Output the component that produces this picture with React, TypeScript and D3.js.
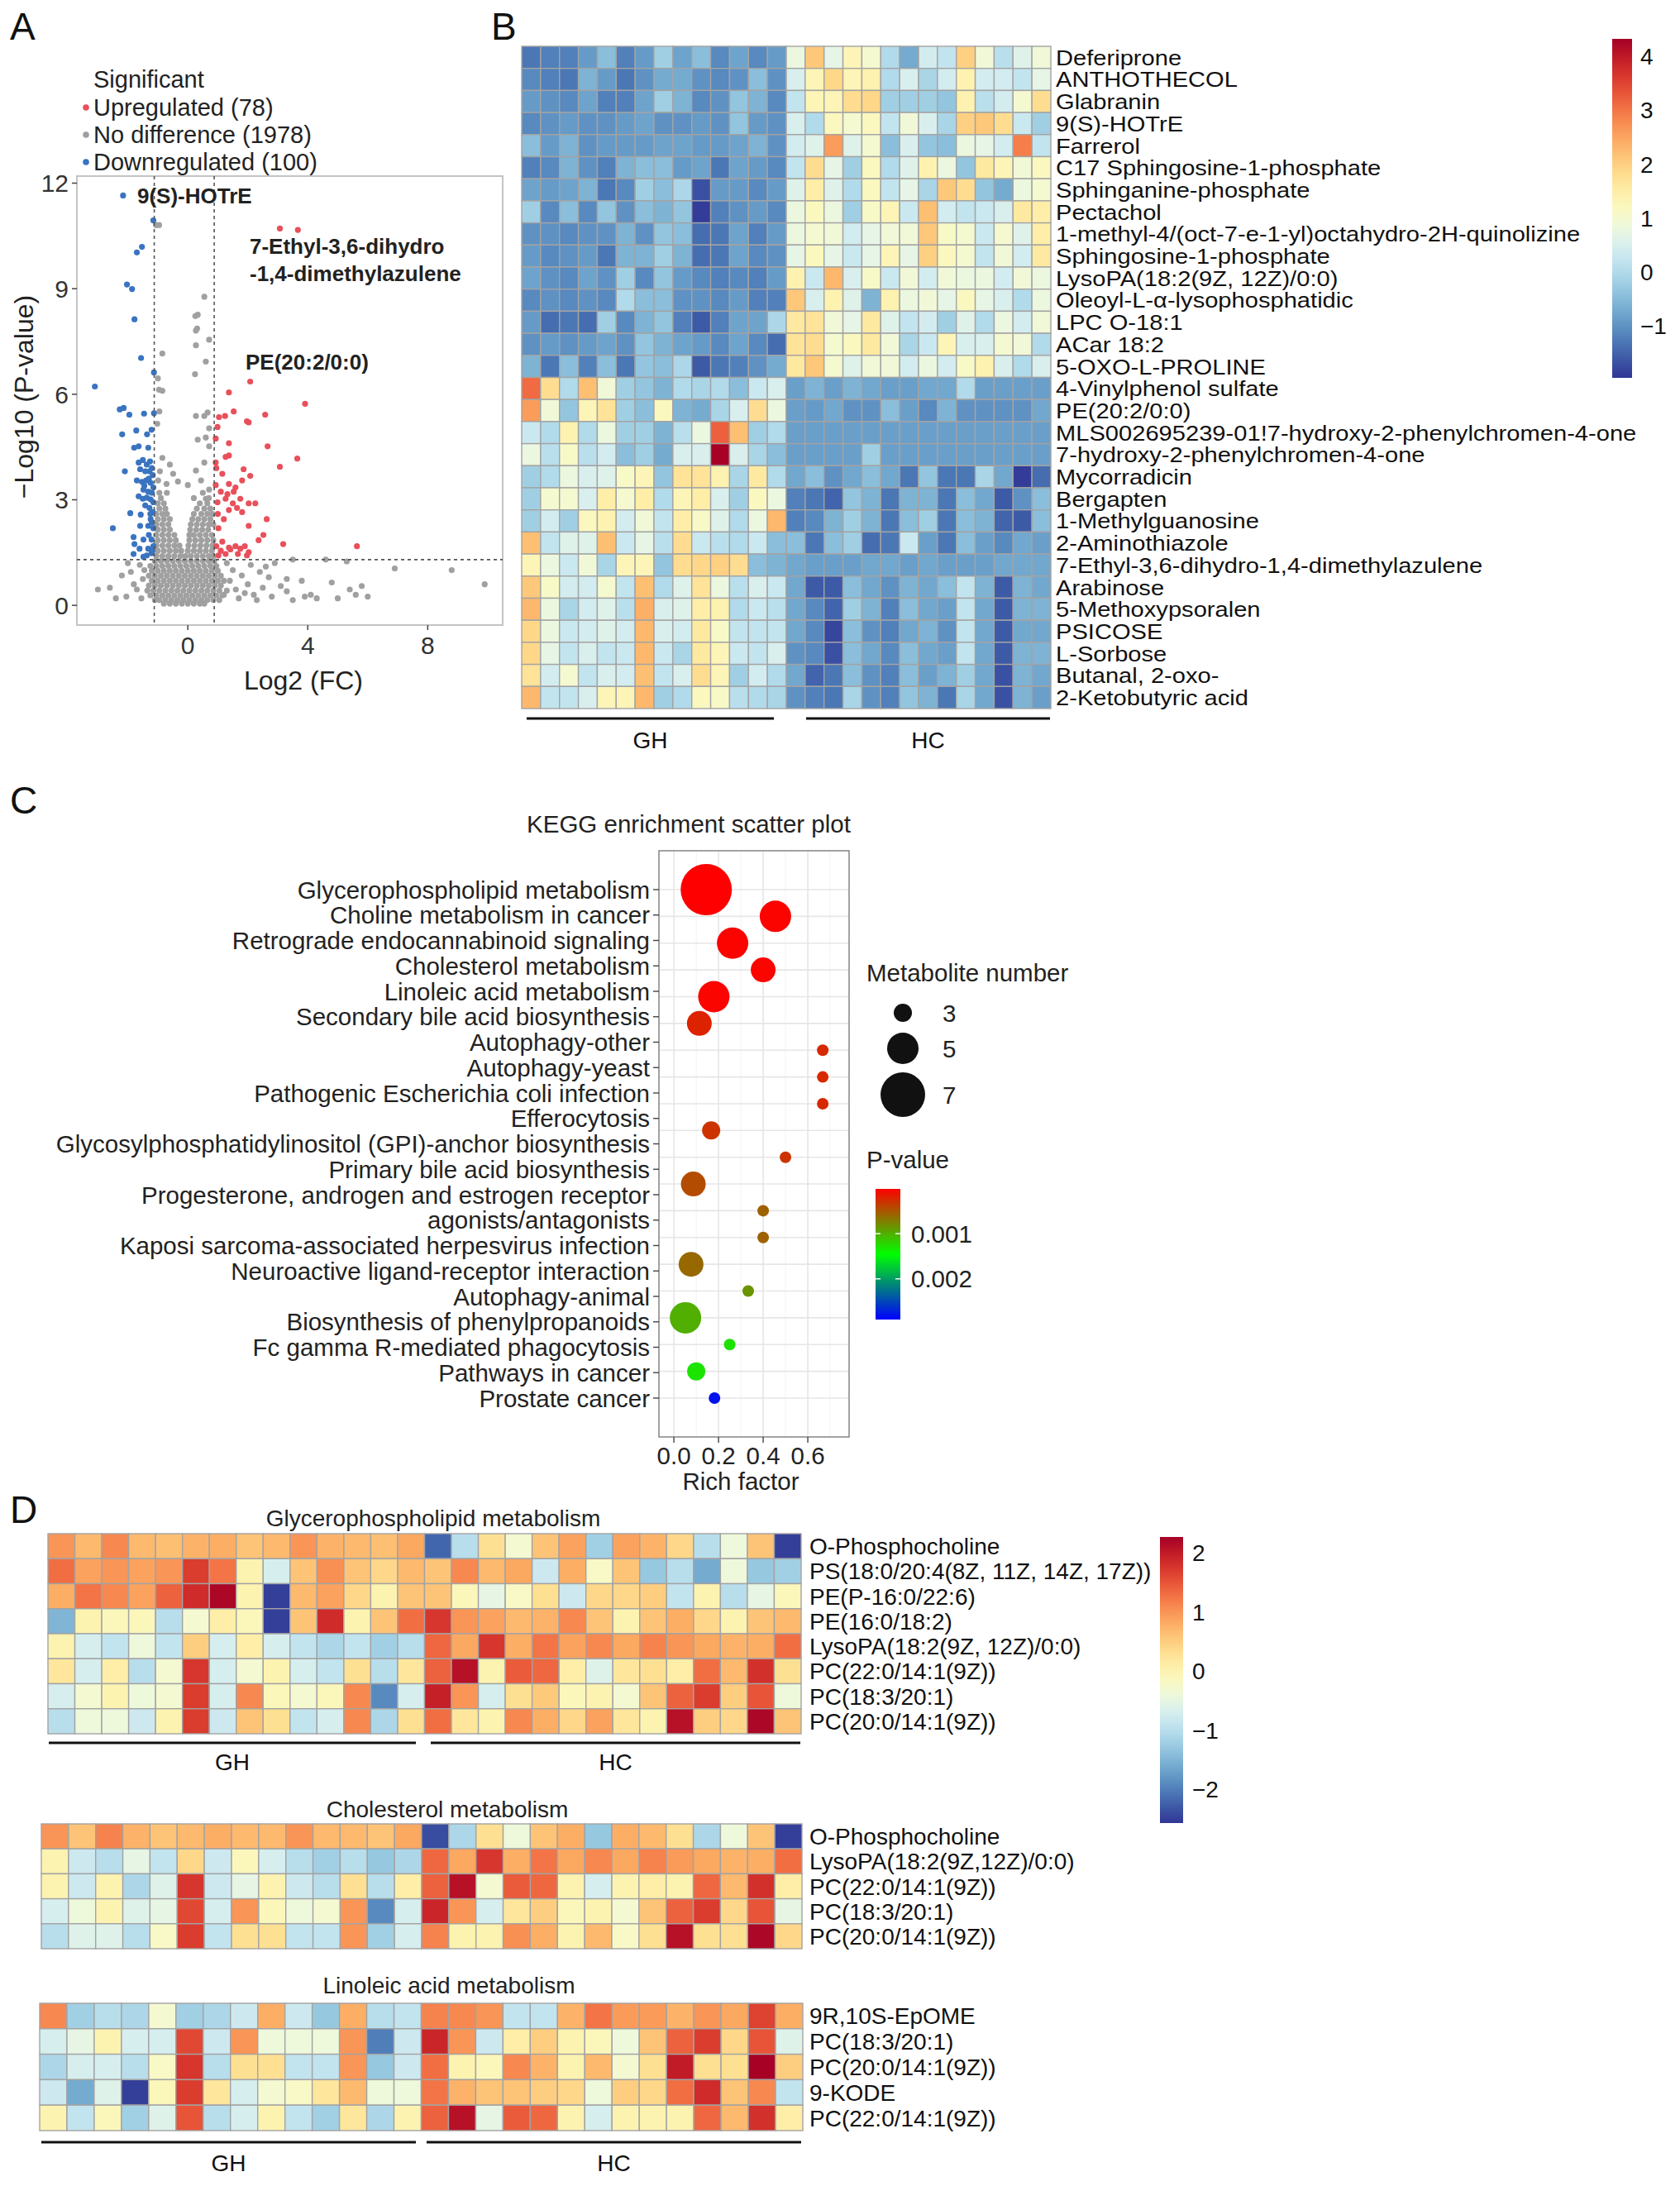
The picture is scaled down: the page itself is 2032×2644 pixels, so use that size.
import React from 'react';
import * as d3 from 'd3';

const FONT = '"Liberation Sans", Arial, Helvetica, sans-serif';

// ---------------- Panel A: volcano plot ----------------
const upPoints: [number, number][] = [
  [3.07, 10.71], [3.67, 10.67], [2.08, 6.36], [1.37, 6.05], [3.91, 5.73], [1.24, 5.38], [1.04, 5.35], [1.53, 5.51],
  [2.03, 5.2], [2.58, 5.42], [0.99, 5.07], [0.93, 4.74], [1.37, 4.61], [1.97, 5.23], [2.66, 4.52], [3.65, 4.17],
  [3.07, 3.94], [0.93, 4.06], [1.26, 4.22], [1.37, 4.26], [1.86, 3.87], [2.08, 3.68], [1.15, 3.74], [0.93, 3.42],
  [1.37, 3.45], [1.59, 3.35], [1.81, 3.55], [1.1, 3.23], [1.32, 3.16], [1.53, 3.23], [0.99, 2.93], [1.26, 3.03],
  [1.5, 2.9], [1.75, 3.03], [2.03, 2.9], [2.25, 2.9], [1.37, 2.71], [1.64, 2.77], [1.81, 2.65], [2.63, 2.45],
  [2.03, 2.26], [2.52, 2.0], [2.36, 1.85], [1.02, 2.19], [3.18, 1.74], [5.64, 1.68], [0.95, 1.68], [1.1, 1.55],
  [1.26, 1.46], [1.42, 1.59], [1.59, 1.68], [1.75, 1.61], [1.9, 1.68], [2.03, 1.51], [1.02, 1.42], [1.37, 1.64],
  [1.67, 1.46], [1.97, 1.42], [1.15, 1.81], [0.95, 3.9], [1.0, 2.6], [1.2, 2.45],
];

const downPoints: [number, number][] = [
  [-2.16, 11.65], [-1.15, 10.94], [-1.53, 10.19], [-1.7, 10.03], [-2.03, 9.12], [-1.86, 8.99], [-1.78, 8.13],
  [-1.56, 7.03], [-1.13, 6.62], [-3.1, 6.22], [-2.27, 5.57], [-2.14, 5.61], [-1.95, 5.42], [-1.46, 5.45],
  [-1.13, 5.46], [-2.19, 4.86], [-1.72, 4.97], [-1.36, 4.86], [-1.21, 4.99], [-1.79, 4.48], [-1.64, 4.52],
  [-1.32, 4.48], [-1.64, 4.06], [-1.5, 4.13], [-1.37, 4.0], [-1.26, 4.09], [-1.59, 3.87], [-1.42, 3.81],
  [-1.28, 3.81], [-1.17, 3.7], [-2.1, 3.81], [-1.7, 3.55], [-1.53, 3.51], [-1.39, 3.55], [-1.24, 3.48],
  [-1.15, 3.35], [-1.48, 3.29], [-1.32, 3.23], [-1.64, 3.1], [-1.5, 3.03], [-1.37, 3.06], [-1.24, 3.01],
  [-1.15, 2.93], [-1.42, 2.84], [-1.28, 2.77], [-1.17, 2.65], [-1.92, 2.62], [-1.57, 2.58], [-1.24, 2.45],
  [-2.5, 2.19], [-1.59, 2.26], [-1.32, 2.26], [-1.15, 2.19], [-1.81, 1.94], [-1.48, 1.87], [-1.21, 1.87],
  [-1.78, 1.74], [-1.61, 1.61], [-1.32, 1.61], [-1.15, 1.68], [-1.37, 1.42], [-1.21, 1.48], [-1.81, 1.46],
  [-1.48, 1.38], [-1.2, 3.9], [-1.3, 3.6], [-1.2, 3.2], [-1.45, 3.4], [-1.25, 2.6], [-1.2, 2.35], [-1.3, 2.0],
  [-1.18, 1.55],
];

// dense grey cloud, read row by row: [-log10 p, log2 FC values]
const greyRows: [number, number[]][] = [
  [0.05, [-0.8, -0.6, -0.4, -0.2, 0.0, 0.2, 0.4, 0.55]],
  [0.15, [-1.1, -0.95, -0.75, -0.55, -0.35, -0.15, 0.05, 0.25, 0.45, 0.65, 0.85, 1.05]],
  [0.28, [-1.25, -1.05, -0.85, -0.65, -0.45, -0.25, -0.05, 0.15, 0.35, 0.55, 0.75, 0.95, 1.15]],
  [0.42, [-1.35, -1.15, -0.95, -0.75, -0.55, -0.35, -0.15, 0.05, 0.25, 0.45, 0.65, 0.85, 1.05, 1.3]],
  [0.56, [-1.3, -1.1, -0.9, -0.7, -0.5, -0.3, -0.1, 0.1, 0.3, 0.5, 0.7, 0.9, 1.1]],
  [0.7, [-1.2, -1.0, -0.8, -0.6, -0.4, -0.2, 0.0, 0.2, 0.4, 0.6, 0.8, 1.0, 1.2]],
  [0.84, [-1.3, -1.1, -0.9, -0.7, -0.5, -0.3, -0.1, 0.1, 0.3, 0.5, 0.7, 0.9, 1.1]],
  [0.98, [-1.2, -1.0, -0.8, -0.6, -0.4, -0.2, 0.0, 0.2, 0.4, 0.6, 0.8, 1.0]],
  [1.12, [-1.25, -1.05, -0.85, -0.65, -0.45, -0.25, -0.05, 0.15, 0.35, 0.55, 0.75, 0.95]],
  [1.26, [-1.1, -0.9, -0.7, -0.5, -0.3, -0.1, 0.1, 0.3, 0.5, 0.7, 0.88]],
  [1.4, [-1.05, -0.85, -0.65, -0.45, -0.25, -0.08, 0.1, 0.3, 0.5, 0.7, 0.85]],
  [1.55, [-1.0, -0.8, -0.6, -0.4, -0.22, 0.0, 0.2, 0.4, 0.6, 0.8]],
  [1.7, [-1.05, -0.85, -0.65, -0.45, -0.28, 0.02, 0.22, 0.42, 0.62, 0.82]],
  [1.85, [-1.0, -0.8, -0.6, -0.4, 0.05, 0.25, 0.45, 0.65, 0.85]],
  [2.0, [-1.05, -0.85, -0.65, -0.45, 0.05, 0.2, 0.4, 0.6, 0.8]],
  [2.15, [-1.0, -0.8, -0.6, 0.08, 0.28, 0.48, 0.68]],
  [2.3, [-1.05, -0.85, -0.65, 0.1, 0.3, 0.5, 0.7, 0.85]],
  [2.45, [-1.0, -0.8, -0.6, 0.15, 0.35, 0.55, 0.75]],
  [2.6, [-1.05, -0.85, -0.7, 0.2, 0.45, 0.65, 0.82]],
  [2.75, [-0.95, -0.75, 0.3, 0.55, 0.75]],
  [2.9, [-1.0, -0.8, 0.4, 0.65]],
  [3.05, [-0.9, 0.2, 0.7]],
  [3.2, [-0.95, -0.7, 0.5]],
];

const greyScatter: [number, number][] = [
  [-1.06, 10.81], [-0.96, 10.81], [0.55, 8.77], [0.33, 8.26], [0.25, 8.22], [0.27, 7.81], [0.31, 7.87],
  [0.71, 7.55], [-0.85, 7.16], [0.27, 7.39], [0.6, 6.93], [0.24, 6.57], [-0.85, 6.1], [-1.0, 6.45],
  [-0.96, 6.13], [-0.95, 5.51], [-1.02, 5.16], [0.27, 5.38], [0.66, 5.48], [0.55, 5.38], [0.71, 5.03],
  [0.33, 4.71], [0.6, 4.77], [0.71, 4.52], [-0.85, 4.19], [-0.6, 4.0], [0.55, 4.06], [-0.93, 3.81],
  [-0.49, 3.74], [0.27, 3.83], [-0.99, 3.55], [-0.71, 3.45], [-0.33, 3.52], [0.0, 3.42], [0.44, 3.55],
  [0.71, 3.29], [0.6, 3.03],
  [-1.6, 1.15], [-1.9, 0.95], [-1.5, 0.75], [-2.2, 0.85], [-1.7, 0.45], [-2.05, 0.25], [-2.6, 0.5],
  [-3.0, 0.45], [-1.55, 0.2], [-1.8, 0.6], [-2.4, 0.2], [-1.45, 1.0], [-2.0, 1.2],
  [1.3, 1.2], [1.5, 1.0], [1.4, 0.7], [1.6, 0.45], [1.8, 0.85], [2.0, 0.6], [2.2, 0.3], [2.4, 0.95],
  [2.6, 1.1], [2.7, 0.8], [2.5, 0.5], [2.8, 0.25], [3.1, 0.55], [3.3, 0.4], [3.5, 0.15], [3.8, 0.7],
  [4.1, 0.3], [4.3, 0.2], [4.8, 0.65], [5.0, 0.2], [5.3, 1.25], [5.4, 0.45], [5.6, 0.3], [5.8, 0.55],
  [6.0, 0.25], [6.9, 1.05], [8.8, 1.0], [9.9, 0.6], [1.2, 0.3], [1.7, 0.2], [2.1, 1.15], [2.9, 1.2],
  [3.5, 1.3], [4.6, 1.3], [1.9, 0.35], [2.3, 0.15], [3.3, 0.75], [3.9, 0.25],
];

const volcanoLegend = ['Upregulated (78)', 'No difference (1978)', 'Downregulated (100)'];
const volcanoXTicks = [0, 4, 8];
const volcanoYTicks = [0, 3, 6, 9, 12];

// ---------------- Panel B: heatmap of differential metabolites ----------------
const bRows = [
  'Deferiprone', 'ANTHOTHECOL', 'Glabranin', '9(S)-HOTrE', 'Farrerol', 'C17 Sphingosine-1-phosphate',
  'Sphinganine-phosphate', 'Pectachol', '1-methyl-4/(oct-7-e-1-yl)octahydro-2H-quinolizine',
  'Sphingosine-1-phosphate', 'LysoPA(18:2(9Z, 12Z)/0:0)', 'Oleoyl-L-\u03b1-lysophosphatidic', 'LPC O-18:1',
  'ACar 18:2', '5-OXO-L-PROLINE', '4-Vinylphenol sulfate', 'PE(20:2/0:0)',
  'MLS002695239-01!7-hydroxy-2-phenylchromen-4-one', '7-hydroxy-2-phenylchromen-4-one', 'Mycorradicin',
  'Bergapten', '1-Methylguanosine', '2-Aminothiazole', '7-Ethyl-3,6-dihydro-1,4-dimethylazulene', 'Arabinose',
  '5-Methoxypsoralen', 'PSICOSE', 'L-Sorbose', 'Butanal, 2-oxo-', '2-Ketobutyric acid',
];

// 14 GH samples then 14 HC samples
const bValues = [
  [-1.3, -1.2, -1.2, -0.9, -0.45, -1.2, -0.9, -0.2, -0.8, -0.45, -1.1, -0.8, -1.1, -0.9, 0.8, 2.1, 0.7, 1.3, 1.0, 0.0, -0.7, 0.4, 0.2, 2.0, 0.9, 0.1, 0.6, 0.9],
  [-1.1, -1.2, -1.3, -0.6, -0.9, -1.3, -1.0, -0.7, -0.7, -1.0, -1.1, -1.0, -0.45, -1.0, 0.5, 1.3, 1.9, 1.3, 1.4, 0.0, 0.5, -0.1, 0.4, 1.4, 0.4, 0.4, 0.2, 0.7],
  [-0.9, -1.0, -1.1, -0.8, -1.2, -1.2, -0.8, -0.2, -0.6, -1.1, -1.0, -0.35, -0.6, -1.1, 0.2, 1.3, 1.3, 1.8, 1.9, -0.2, -0.2, -0.2, -0.35, 1.4, 0.1, 0.4, 1.0, 1.8],
  [-1.1, -1.0, -0.9, -1.0, -1.0, -0.9, -0.8, -1.0, -1.0, -0.9, -1.0, -0.35, -0.9, -1.0, 0.5, 0.0, 1.2, 1.0, 1.2, 0.2, 0.9, 0.5, -0.1, 2.0, 2.1, 1.8, 0.3, -0.2],
  [-0.45, -0.9, -0.6, -1.0, -0.9, -0.9, -0.9, -0.8, -0.8, -0.9, -0.9, -0.8, -0.6, -1.0, 0.4, 0.6, 2.6, 0.6, 1.0, -0.45, 0.5, -0.35, -0.45, 0.8, 0.7, 0.4, 2.9, 0.2],
  [-1.2, -1.1, -0.6, -1.0, -1.2, -0.6, -0.45, -0.45, -0.9, -0.8, -1.3, -0.8, -0.9, -1.1, 0.2, 1.8, 0.7, -0.2, 1.2, 0.0, 0.6, 1.4, 0.8, -0.35, 1.6, 1.3, 0.9, 1.2],
  [-0.8, -0.9, -0.8, -0.6, -1.3, -1.1, -0.2, -0.45, -0.05, -1.7, -0.9, -0.9, -1.1, -0.9, 0.6, 1.5, 0.6, 0.0, 1.2, 0.2, 0.7, -0.1, 2.1, 1.8, -0.35, -0.7, 0.8, 1.0],
  [-0.2, -1.1, -0.45, -1.1, -0.35, -1.0, -0.45, -0.6, -0.35, -1.9, -1.2, -1.0, -0.9, -1.1, 0.8, 1.2, 0.8, -0.2, 1.1, 1.3, 0.3, 2.2, 0.4, 0.2, 0.3, 0.5, 1.6, 1.5],
  [-1.0, -1.0, -1.1, -1.0, -1.0, -0.6, -1.0, -0.35, -0.45, -1.4, -1.3, -0.8, -1.2, -0.9, 0.8, 1.0, 0.9, 0.4, 0.7, 0.9, 0.9, 2.1, 1.1, 1.0, 0.3, 1.0, 0.6, 1.5],
  [-0.9, -1.1, -1.0, -0.9, -1.3, -0.6, -0.6, -0.2, -0.6, -1.4, -1.3, -0.8, -1.1, -1.0, 0.7, 1.2, 0.7, 0.3, 0.7, 1.3, 0.7, 2.0, 1.2, 1.0, 0.2, 0.9, 0.4, 1.6],
  [-0.8, -1.0, -1.1, -0.8, -1.0, -0.2, -1.1, -0.35, -0.9, -1.1, -1.2, -1.1, -1.2, -0.9, 1.4, 0.3, 2.3, 0.5, 1.1, 0.3, 0.9, 0.4, 0.9, 0.8, 0.8, 0.4, 0.9, 0.8],
  [-1.1, -1.0, -1.1, -1.0, -1.1, 0.0, -0.45, -0.45, -1.0, -1.0, -1.1, -0.9, -1.2, -1.2, 2.1, 0.5, 1.4, 0.6, -0.6, 1.4, 0.8, 0.9, 0.7, 1.2, 0.7, 0.5, 0.0, 0.8],
  [-0.9, -1.4, -1.3, -1.4, -0.2, -1.1, -0.6, -0.35, -1.2, -1.6, -1.2, -0.8, -0.8, -0.05, 1.6, 1.7, 0.9, 0.7, 1.6, 0.6, 0.2, 0.4, -0.2, 0.6, 0.0, 0.8, 0.4, 0.9],
  [-1.0, -0.9, -1.0, -0.9, -0.8, -1.0, -0.35, -0.6, -0.8, -0.9, -1.1, -0.8, -1.1, -1.4, 1.7, 1.8, 1.0, 1.2, 1.6, 0.9, -0.1, 0.3, 1.3, 0.5, 0.5, 1.0, 0.9, 0.0],
  [-0.6, -1.3, -0.45, -1.2, -0.45, -1.3, -0.35, -0.45, -0.05, -1.6, -1.3, -1.2, -1.0, -0.7, 1.6, 2.1, 1.0, 0.6, 0.9, 0.9, 0.4, 0.8, 0.4, 1.1, 1.4, 0.5, 0.0, 0.5],
  [3.1, 1.8, 0.0, 2.2, 0.9, -0.2, -0.35, -0.6, 0.0, -0.1, 0.0, -0.45, 0.3, 0.5, -0.85, -0.6, -0.85, -0.6, -0.75, -0.85, -0.85, -0.75, -0.75, 0.0, -0.85, -0.85, -0.85, -0.85],
  [2.6, 0.9, -0.35, 1.3, 1.7, -0.2, -0.45, 1.2, -0.6, -0.7, -0.1, 0.5, 1.8, 0.8, -0.85, -0.9, -0.75, -1.0, -1.0, -0.45, -0.85, -1.1, -0.6, -1.0, -1.0, -1.0, -1.0, -0.75],
  [0.3, 0.0, 1.4, 0.0, 0.8, -0.2, -0.2, -0.6, 0.1, 0.8, 3.2, 2.2, -0.2, 0.0, -0.85, -0.85, -0.85, -0.85, -0.85, -0.85, -0.85, -0.85, -0.85, -0.85, -0.85, -0.85, -0.85, -0.85],
  [0.8, 0.1, 1.1, 0.1, 0.4, -0.45, -0.2, -0.7, 0.5, 0.5, 4.3, 0.5, -0.1, -0.45, -0.85, -0.85, -0.85, -0.85, -0.2, -0.85, -0.85, -0.85, -0.85, -0.85, -0.85, -0.85, -0.85, -0.85],
  [-0.2, 0.0, 0.8, 0.5, 0.6, 1.1, 1.3, -0.35, 1.7, 1.7, 1.4, -0.1, 1.6, 0.0, -0.75, -0.45, -1.0, -0.75, -0.45, -0.75, -1.3, -0.35, -1.3, -1.3, -0.1, -0.75, -1.9, -1.4],
  [-0.2, 1.0, 1.0, 0.5, 1.5, 1.0, 1.5, 0.0, 1.3, 1.5, 0.5, -0.2, 1.2, 0.8, -1.2, -1.3, -1.5, -0.35, -0.6, -1.3, -0.6, -0.6, -1.3, -0.45, -0.75, -1.6, -1.0, -0.45],
  [-0.2, 0.4, -0.2, 1.2, 1.4, 0.4, 0.9, 0.2, 1.5, 1.1, 0.6, 0.0, 0.8, 2.3, -1.2, -1.1, -0.6, -0.2, -0.6, -1.3, -0.45, -0.2, -1.3, -0.45, -0.6, -1.5, -1.6, -0.45],
  [2.2, 0.2, 0.6, 0.6, 2.2, 0.3, 0.7, 0.1, 1.8, 0.3, 0.1, 0.0, 0.3, -0.45, -0.45, -1.3, -0.45, -0.2, -1.4, -1.3, 0.3, -0.85, -1.3, -0.45, -0.85, -1.1, -0.75, -0.85],
  [1.3, 0.8, 0.3, 0.9, -0.1, 1.3, 1.3, -0.35, 1.8, 1.9, 2.0, 1.8, -0.45, -0.6, -0.75, -0.85, -0.85, -0.85, -0.75, -0.75, -0.85, -0.75, -0.85, -0.85, -0.85, -0.75, -0.75, -0.75],
  [2.1, 1.1, 0.4, 0.4, 1.0, 0.2, 2.2, 0.0, 0.6, 1.7, 0.8, 0.1, 0.5, 0.3, -0.75, -1.6, -1.6, -0.45, -0.75, -1.0, -0.6, -0.75, -0.45, 0.2, -0.6, -1.6, -0.6, -0.75],
  [2.3, 0.8, -0.1, 0.4, 0.6, 0.1, 2.4, 0.5, 0.6, 1.5, 1.4, 0.0, 0.3, 0.1, -0.75, -1.1, -1.5, -0.2, -0.6, -1.2, -0.45, -0.75, -0.85, 0.2, -0.75, -1.6, -0.6, -0.6],
  [1.9, 0.8, 0.3, 0.4, 0.6, 0.4, 2.3, 0.5, 0.4, 1.6, 1.1, 0.2, 0.2, 0.2, -0.75, -1.1, -1.8, -0.45, -1.0, -1.2, -0.75, -0.6, -1.0, 0.2, -0.75, -1.6, -0.75, -0.75],
  [1.9, 0.7, 0.2, 0.5, 0.2, 0.3, 2.3, 0.3, -0.1, 1.6, 1.3, 0.3, 0.2, 0.5, -1.0, -1.1, -1.7, -0.45, -0.75, -1.1, -0.45, -0.75, -0.85, 0.2, -0.75, -1.6, -0.6, -0.6],
  [1.7, 0.4, 1.0, 0.2, 0.5, 0.4, 2.2, 0.2, 0.5, 1.8, 1.3, -0.2, 0.4, 0.0, -0.75, -1.5, -1.3, -0.45, -1.0, -1.2, -0.45, -0.85, -0.6, -0.2, -0.75, -1.7, -0.6, -0.75],
  [2.3, 0.2, 0.2, 0.5, 1.3, 1.3, 2.3, -0.2, 0.0, 1.2, 1.1, 0.1, 0.0, -0.1, -1.0, -1.2, -1.3, -0.1, -1.0, -1.2, -0.35, -0.6, -1.3, -0.1, -0.75, -1.7, -0.6, -0.85],
];
const bLegendTicks = [-1, 0, 1, 2, 3, 4];

// ---------------- Panel C: KEGG enrichment ----------------
const pathways = [
  'Glycerophospholipid metabolism', 'Choline metabolism in cancer', 'Retrograde endocannabinoid signaling',
  'Cholesterol metabolism', 'Linoleic acid metabolism', 'Secondary bile acid biosynthesis', 'Autophagy-other',
  'Autophagy-yeast', 'Pathogenic Escherichia coli infection', 'Efferocytosis',
  'Glycosylphosphatidylinositol (GPI)-anchor biosynthesis', 'Primary bile acid biosynthesis',
  'Progesterone, androgen and estrogen receptor agonists/antagonists',
  'Kaposi sarcoma-associated herpesvirus infection', 'Neuroactive ligand-receptor interaction',
  'Autophagy-animal', 'Biosynthesis of phenylpropanoids', 'Fc gamma R-mediated phagocytosis',
  'Pathways in cancer', 'Prostate cancer',
];
const pathwayLines = [
  'Glycerophospholipid metabolism', 'Choline metabolism in cancer', 'Retrograde endocannabinoid signaling',
  'Cholesterol metabolism', 'Linoleic acid metabolism', 'Secondary bile acid biosynthesis', 'Autophagy-other',
  'Autophagy-yeast', 'Pathogenic Escherichia coli infection', 'Efferocytosis',
  'Glycosylphosphatidylinositol (GPI)-anchor biosynthesis', 'Primary bile acid biosynthesis',
  'Progesterone, androgen and estrogen receptor', 'agonists/antagonists',
  'Kaposi sarcoma-associated herpesvirus infection', 'Neuroactive ligand-receptor interaction',
  'Autophagy-animal', 'Biosynthesis of phenylpropanoids', 'Fc gamma R-mediated phagocytosis',
  'Pathways in cancer', 'Prostate cancer',
];
const richFactor = [0.145, 0.455, 0.263, 0.4, 0.179, 0.114, 0.667, 0.667, 0.667, 0.167, 0.5, 0.087, 0.4, 0.4, 0.077, 0.333, 0.052, 0.25, 0.1, 0.182];
const metaboliteCount = [8, 5, 5, 4, 5, 4, 2, 2, 2, 3, 2, 4, 2, 2, 4, 2, 5, 2, 3, 2];
const pValue = [0.00001, 0.00003, 0.00003, 0.00004, 0.00004, 0.0002, 0.00024, 0.00024, 0.00024, 0.0003, 0.0003, 0.00044, 0.00055, 0.00055, 0.0006, 0.00085, 0.001, 0.00128, 0.0013, 0.0028];
const richTicks = [0, 0.2, 0.4, 0.6];
const sizeLegend = [3, 5, 7];
const pTicks = [0.001, 0.002];

// ---------------- Panel D: pathway heatmaps ----------------
const dGlyRows = [
  'O-Phosphocholine', 'PS(18:0/20:4(8Z, 11Z, 14Z, 17Z))', 'PE(P-16:0/22:6)', 'PE(16:0/18:2)',
  'LysoPA(18:2(9Z, 12Z)/0:0)', 'PC(22:0/14:1(9Z))', 'PC(18:3/20:1)', 'PC(20:0/14:1(9Z))',
];
const dGlyValues = [
  [1.0, 0.7, 1.1, 0.7, 0.65, 0.75, 0.8, 0.6, 0.7, 1.0, 0.75, 0.7, 0.65, 0.85, -2.2, -1.0, 0.3, -0.3, 0.6, 0.9, -1.2, 0.9, 0.75, 0.4, -1.0, -0.4, 0.6, -2.5],
  [1.3, 0.9, 1.0, 0.9, 1.0, 1.7, 1.25, 0.0, -0.7, 0.6, 1.05, 0.6, 0.4, 0.7, 0.6, 1.1, 0.7, 0.85, -0.8, 0.8, -0.2, 0.6, -1.3, -1.0, -1.6, -0.4, -1.3, -1.2],
  [0.8, 1.25, 1.1, 0.9, 1.4, 1.85, 2.2, 0.0, -2.5, 0.7, 0.9, 0.4, 0.0, 0.6, 0.6, -0.1, -0.5, -0.2, 0.3, -0.8, 0.4, 0.4, 0.5, -0.9, 0.0, -1.0, -0.5, -0.1],
  [-1.5, 0.0, -0.1, -0.1, -1.0, -0.3, 0.1, -0.1, -2.5, 0.6, 1.85, 0.0, 0.6, 1.3, 1.75, 1.0, 0.9, 0.7, 0.75, 1.1, 0.6, 0.0, 0.6, 0.8, 0.4, 0.0, 0.6, 0.7],
  [0.0, -0.7, -0.9, -0.4, -0.9, 0.5, -0.7, 0.1, -0.7, -0.9, -1.1, -0.9, -1.2, -1.0, 1.35, 0.85, 1.75, 0.8, 1.25, 0.9, 1.1, 0.85, 1.15, 1.0, 0.85, 0.75, 0.8, 1.3],
  [0.2, -0.7, 0.1, -1.0, -0.3, 1.75, -0.7, -0.3, 0.0, -0.7, -0.9, 0.3, -1.0, 0.2, 1.4, 2.1, 0.0, 1.45, 1.35, 0.1, -0.6, 0.2, 0.3, 0.1, 1.3, 0.7, 1.8, 0.3],
  [-0.7, -0.3, 0.0, -0.4, -0.3, 1.7, -0.7, 1.1, -0.1, -0.3, -0.1, 1.1, -1.9, -0.7, 1.95, 1.0, -0.7, 0.3, 0.55, -0.1, 0.0, -0.3, 0.6, 1.4, 1.7, 0.5, 1.5, -0.4],
  [-1.0, -0.4, -0.4, -0.8, 0.0, 1.7, -0.8, 0.6, 0.3, -0.9, -0.7, 1.1, -1.1, 0.3, 1.3, 0.2, 0.0, 1.1, 0.8, 0.4, 0.9, 0.2, 0.0, 2.1, 0.5, 0.4, 2.2, 0.6],
];
const dCholRows = ['O-Phosphocholine', 'LysoPA(18:2(9Z,12Z)/0:0)', 'PC(22:0/14:1(9Z))', 'PC(18:3/20:1)', 'PC(20:0/14:1(9Z))'];
const dCholValues = [
  [1.0, 0.6, 1.15, 0.75, 0.6, 0.7, 0.8, 0.7, 0.7, 1.0, 0.7, 0.7, 0.6, 0.85, -2.4, -1.1, 0.3, -0.4, 0.6, 0.8, -1.3, 0.8, 0.7, 0.3, -1.1, -0.4, 0.6, -2.5],
  [0.0, -0.8, -1.0, -0.5, -0.9, 0.4, -0.8, -0.1, -0.7, -1.0, -1.2, -1.0, -1.3, -1.1, 1.35, 0.85, 1.75, 0.8, 1.25, 0.85, 1.1, 0.85, 1.15, 0.95, 0.85, 0.75, 0.8, 1.3],
  [0.0, -0.8, 0.0, -1.1, -0.6, 1.75, -0.8, -0.5, 0.0, -0.8, -1.0, 0.3, -1.0, 0.1, 1.4, 2.1, -0.3, 1.45, 1.35, 0.0, -0.7, 0.0, 0.1, 0.0, 1.35, 0.7, 1.8, 0.1],
  [-0.7, -0.4, 0.0, -0.6, -0.5, 1.6, -0.7, 1.0, -0.1, -0.4, -0.3, 1.0, -1.9, -0.7, 1.9, 1.0, -0.7, 0.2, 0.5, -0.1, 0.0, -0.3, 0.6, 1.4, 1.7, 0.4, 1.5, -0.5],
  [-1.0, -0.6, -0.6, -1.0, -0.2, 1.7, -0.9, 0.3, 0.3, -0.9, -0.9, 1.0, -1.2, -0.7, 1.15, 0.0, 0.0, 1.05, 0.8, 0.0, 0.7, -0.2, 0.3, 2.1, 0.3, 0.3, 2.2, 0.4],
];
const dLinRows = ['9R,10S-EpOME', 'PC(18:3/20:1)', 'PC(20:0/14:1(9Z))', '9-KODE', 'PC(22:0/14:1(9Z))'];
const dLinValues = [
  [1.1, -1.2, -1.0, -1.1, -0.3, -1.2, -1.1, -0.8, 0.8, -0.8, -1.3, 0.8, -1.0, -0.9, 1.15, 1.1, 1.0, -0.9, -0.9, 0.75, 1.25, 0.95, 0.95, 0.75, 1.0, 0.85, 1.65, 0.8],
  [-0.7, -0.5, 0.0, -0.7, -0.7, 1.6, -0.8, 1.0, -0.4, -0.4, -0.4, 1.0, -2.0, -0.8, 1.9, 1.0, -0.8, 0.1, 0.5, 0.0, -0.1, -0.4, 0.6, 1.4, 1.7, 0.4, 1.5, -0.6],
  [-1.1, -0.7, -0.7, -1.0, -0.2, 1.75, -1.0, 0.3, 0.3, -0.9, -0.9, 1.0, -1.3, -0.8, 1.3, 0.0, -0.1, 1.1, 0.75, 0.0, 0.7, -0.3, 0.3, 2.0, 0.3, 0.3, 2.25, 0.5],
  [-0.8, -1.6, -0.6, -2.5, -0.1, 1.7, 0.2, -0.7, -0.3, -0.2, 0.2, 0.7, -0.4, -0.4, 1.25, 0.75, 0.6, 0.6, 0.5, 0.4, -0.4, 0.5, 0.4, 1.3, 1.85, 0.6, 1.1, -0.9],
  [0.0, -0.9, -0.1, -1.2, -0.6, 1.5, -1.0, -0.7, 0.0, -0.9, -1.2, 0.2, -1.1, 0.0, 1.4, 2.1, -0.5, 1.45, 1.35, 0.0, -0.7, 0.0, 0.0, 0.0, 1.35, 0.7, 1.8, 0.1],
];
const dLegendTicks = [-2, -1, 0, 1, 2];

// ---------------- helpers ----------------
const rdylbu = (lo: number, hi: number) =>
  d3.scaleSequential((t: number) => d3.interpolateRdYlBu(1 - t)).domain([lo, hi]);

const colorB = rdylbu(-1.96, 4.32);
const colorD = rdylbu(-2.57, 2.27);

function Heatmap({ x0, x1, y0, y1, rows, values, color, labelX, fontSize, stretch = 1 }: any) {
  const nCols = values[0].length;
  const xs = d3.scaleBand<number>().domain(d3.range(nCols)).range([x0, x1]);
  const ys = d3.scaleBand<number>().domain(d3.range(rows.length)).range([y0, y1]);
  return (
    <g>
      {values.map((row: number[], i: number) =>
        row.map((v: number, j: number) => (
          <rect key={`${i}-${j}`} x={xs(j)} y={ys(i)} width={xs.bandwidth()} height={ys.bandwidth()}
            fill={color(v)} stroke="#a3a3a3" strokeWidth={1.4} />
        ))
      )}
      {rows.map((r: string, i: number) => (
        <text key={r + i}
          transform={`translate(${labelX},${(ys(i) as number) + ys.bandwidth() / 2}) scale(${stretch},1)`}
          dy="0.36em" fontSize={fontSize} fill="#111">{r}</text>
      ))}
    </g>
  );
}

function ColorBar({ id, x, y0, y1, width, color, lo, hi, ticks, labelX, fontSize }: any) {
  const ys = d3.scaleLinear().domain([lo, hi]).range([y1, y0]);
  const stops = d3.range(0, 1.0001, 0.05);
  return (
    <g>
      <defs>
        <linearGradient id={id} x1="0" y1="1" x2="0" y2="0">
          {stops.map((t) => (
            <stop key={t} offset={t} stopColor={color(lo + t * (hi - lo))} />
          ))}
        </linearGradient>
      </defs>
      <rect x={x} y={y0} width={width} height={y1 - y0} fill={`url(#${id})`} />
      {ticks.map((t: number) => (
        <text key={t} x={labelX} y={ys(t)} dy="0.36em" fontSize={fontSize} fill="#111">
          {t < 0 ? `\u2212${Math.abs(t)}` : t}
        </text>
      ))}
    </g>
  );
}

function GroupBars({ gh, hc, y, labelY, fontSize }: any) {
  return (
    <g>
      <line x1={gh[0]} x2={gh[1]} y1={y} y2={y} stroke="#111" strokeWidth={3} />
      <line x1={hc[0]} x2={hc[1]} y1={y} y2={y} stroke="#111" strokeWidth={3} />
      <text x={(gh[0] + gh[1]) / 2} y={labelY} dy="0.36em" textAnchor="middle" fontSize={fontSize} fill="#111">GH</text>
      <text x={(hc[0] + hc[1]) / 2} y={labelY} dy="0.36em" textAnchor="middle" fontSize={fontSize} fill="#111">HC</text>
    </g>
  );
}

// ---------------- panels ----------------
function Volcano() {
  const x = d3.scaleLinear().domain([-3.7, 10.5]).range([93, 608]);
  const y = d3.scaleLinear().domain([-0.56, 12.2]).range([756, 213]);
  const grey: [number, number][] = [];
  greyRows.forEach(([py, xs]) => xs.forEach((px) => grey.push([px, py])));
  greyScatter.forEach((p) => grey.push(p));
  const r = 3.6;
  const legendColors = ['#e8505b', '#9e9e9e', '#3a74c0'];
  return (
    <g>
      <text x={113} y={96} dy="0.36em" fontSize={29} fill="#222">Significant</text>
      {volcanoLegend.map((t, i) => (
        <g key={t}>
          <circle cx={104} cy={130 + i * 33} r={3.8} fill={legendColors[i]} />
          <text x={113} y={130 + i * 33} dy="0.36em" fontSize={29} fill="#222">{t}</text>
        </g>
      ))}
      <rect x={93} y={213} width={515} height={543} fill="#fff" stroke="#c4c4c4" strokeWidth={2} />
      {grey.map(([a, b], i) => (
        <circle key={'g' + i} cx={x(a)} cy={y(b)} r={r} fill="#a0a0a0" />
      ))}
      {downPoints.map(([a, b], i) => (
        <circle key={'d' + i} cx={x(a)} cy={y(b)} r={r} fill="#3a74c0" />
      ))}
      {upPoints.map(([a, b], i) => (
        <circle key={'u' + i} cx={x(a)} cy={y(b)} r={r} fill="#e8505b" />
      ))}
      <line x1={x(-1.12)} x2={x(-1.12)} y1={213} y2={756} stroke="#555" strokeWidth={1.6} strokeDasharray="4,4" />
      <line x1={x(0.88)} x2={x(0.88)} y1={213} y2={756} stroke="#555" strokeWidth={1.6} strokeDasharray="4,4" />
      <line x1={93} x2={608} y1={y(1.3)} y2={y(1.3)} stroke="#555" strokeWidth={1.6} strokeDasharray="4,4" />
      <text x={166} y={237} dy="0.36em" fontSize={26} fontWeight="bold" fill="#222">9(S)-HOTrE</text>
      <text x={302} y={298} dy="0.36em" fontSize={26} fontWeight="bold" fill="#222">7-Ethyl-3,6-dihydro</text>
      <text x={302} y={331} dy="0.36em" fontSize={26} fontWeight="bold" fill="#222">-1,4-dimethylazulene</text>
      <text x={297} y={438} dy="0.36em" fontSize={26} fontWeight="bold" fill="#222">PE(20:2/0:0)</text>
      {volcanoYTicks.map((t) => (
        <g key={'yt' + t}>
          <line x1={87} x2={93} y1={y(t)} y2={y(t)} stroke="#444" strokeWidth={1.5} />
          <text x={83} y={y(t)} dy="0.36em" textAnchor="end" fontSize={30} fill="#333">{t}</text>
        </g>
      ))}
      {volcanoXTicks.map((t) => (
        <g key={'xt' + t}>
          <line x1={x(t)} x2={x(t)} y1={756} y2={762} stroke="#444" strokeWidth={1.5} />
          <text x={x(t)} y={780} dy="0.36em" textAnchor="middle" fontSize={30} fill="#333">{t}</text>
        </g>
      ))}
      <text x={367} y={822} dy="0.36em" textAnchor="middle" fontSize={32} fill="#222">Log2 (FC)</text>
      <text transform="translate(28,480) rotate(-90)" dy="0.36em" textAnchor="middle" fontSize={32} fill="#222">
        {'\u2212Log10 (P-value)'}
      </text>
    </g>
  );
}

function Kegg() {
  const fs = 29.5;
  const x = d3.scaleLinear().domain([-0.067, 0.785]).range([797, 1027]);
  const y = d3.scalePoint<string>().domain(pathways).range([1076, 1691]);
  const yl = d3.scalePoint<string>().domain(pathwayLines).range([1076, 1691]);
  const size = d3.scaleLinear().domain([2, 8]).range([7, 31]);
  const color = d3.scaleLinear<string>().domain([0.00001, 0.00145, 0.0029]).range(['#ff0000', '#00ff00', '#0000ff']);
  const yp = d3.scaleLinear().domain([0.00001, 0.0029]).range([1438, 1596]);
  const minor = [0.1, 0.3, 0.5, 0.7];
  const stops = d3.range(0, 1.0001, 0.05);
  return (
    <g>
      <text x={833} y={996} dy="0.36em" textAnchor="middle" fontSize={fs} fill="#222">KEGG enrichment scatter plot</text>
      <rect x={797} y={1029} width={230} height={709} fill="#fff" />
      {minor.map((t) => (
        <line key={'mn' + t} x1={x(t)} x2={x(t)} y1={1029} y2={1738} stroke="#f2f2f2" strokeWidth={1} />
      ))}
      {richTicks.map((t) => (
        <line key={'mj' + t} x1={x(t)} x2={x(t)} y1={1029} y2={1738} stroke="#e6e6e6" strokeWidth={1.6} />
      ))}
      {pathways.map((p) => (
        <line key={'h' + p} x1={797} x2={1027} y1={y(p)} y2={y(p)} stroke="#e6e6e6" strokeWidth={1.6} />
      ))}
      <rect x={797} y={1029} width={230} height={709} fill="none" stroke="#8c8c8c" strokeWidth={1.6} />
      {pathways.map((p, i) => (
        <circle key={'c' + p} cx={x(richFactor[i])} cy={y(p)} r={size(metaboliteCount[i])} fill={color(pValue[i])} />
      ))}
      {pathwayLines.map((l) => (
        <g key={'l' + l}>
          <line x1={790} x2={797} y1={yl(l)} y2={yl(l)} stroke="#444" strokeWidth={1.4} />
          <text x={786} y={yl(l)} dy="0.36em" textAnchor="end" fontSize={fs} fill="#222">{l}</text>
        </g>
      ))}
      {richTicks.map((t) => (
        <g key={'xt' + t}>
          <line x1={x(t)} x2={x(t)} y1={1738} y2={1745} stroke="#444" strokeWidth={1.4} />
          <text x={x(t)} y={1760} dy="0.36em" textAnchor="middle" fontSize={fs} fill="#222">{t.toFixed(1)}</text>
        </g>
      ))}
      <text x={896} y={1791} dy="0.36em" textAnchor="middle" fontSize={fs} fill="#222">Rich factor</text>

      <text x={1048} y={1176} dy="0.36em" fontSize={fs} fill="#222">Metabolite number</text>
      {sizeLegend.map((n, i) => {
        const cy = [1225, 1268, 1324][i];
        return (
          <g key={'s' + n}>
            <circle cx={1092} cy={cy} r={size(n)} fill="#111" />
            <text x={1140} y={cy} dy="0.36em" fontSize={fs} fill="#222">{n}</text>
          </g>
        );
      })}
      <text x={1048} y={1402} dy="0.36em" fontSize={fs} fill="#222">P-value</text>
      <defs>
        <linearGradient id="pgrad" x1="0" y1="0" x2="0" y2="1">
          {stops.map((t) => (
            <stop key={t} offset={t} stopColor={color(0.00001 + t * (0.0029 - 0.00001))} />
          ))}
        </linearGradient>
      </defs>
      <rect x={1059} y={1438} width={30} height={158} fill="url(#pgrad)" />
      {pTicks.map((t) => (
        <g key={'pt' + t}>
          <line x1={1059} x2={1065} y1={yp(t)} y2={yp(t)} stroke="#fff" strokeWidth={1.4} />
          <line x1={1083} x2={1089} y1={yp(t)} y2={yp(t)} stroke="#fff" strokeWidth={1.4} />
          <text x={1102} y={yp(t)} dy="0.36em" fontSize={fs} fill="#222">{t.toFixed(3)}</text>
        </g>
      ))}
    </g>
  );
}

export default function App() {
  const letter = { fontSize: 46, fill: '#111' };
  return (
    <svg width={2032} height={2644} viewBox="0 0 2032 2644"
      style={{ position: 'absolute', left: 0, top: 0, background: '#fff', fontFamily: FONT }}>
      <rect width={2032} height={2644} fill="#fff" />
      <text x={12} y={48} {...letter}>A</text>
      <text x={594} y={48} {...letter}>B</text>
      <text x={12} y={984} {...letter}>C</text>
      <text x={12} y={1842} {...letter}>D</text>

      <Volcano />

      <Heatmap x0={631} x1={1271} y0={56} y1={857} rows={bRows} values={bValues} color={colorB} labelX={1277}
        fontSize={26} stretch={1.12} />
      <GroupBars gh={[637, 936]} hc={[975, 1270]} y={869} labelY={895} fontSize={28} />
      <ColorBar id="bgrad" x={1950} y0={47} y1={457} width={24} color={colorB} lo={-1.96} hi={4.32}
        ticks={bLegendTicks} labelX={1984} fontSize={28} />

      <Kegg />

      <text x={524} y={1836} dy="0.36em" textAnchor="middle" fontSize={28} fill="#222">Glycerophospholipid metabolism</text>
      <Heatmap x0={58} x1={969} y0={1855} y1={2097} rows={dGlyRows} values={dGlyValues} color={colorD} labelX={979} fontSize={28} />
      <GroupBars gh={[59, 503]} hc={[521, 968]} y={2108} labelY={2131} fontSize={28} />
      <ColorBar id="dgrad" x={1403} y0={1859} y1={2205} width={28} color={colorD} lo={-2.57} hi={2.27}
        ticks={dLegendTicks} labelX={1442} fontSize={28} />

      <text x={541} y={2188} dy="0.36em" textAnchor="middle" fontSize={28} fill="#222">Cholesterol metabolism</text>
      <Heatmap x0={50} x1={970} y0={2206} y1={2357} rows={dCholRows} values={dCholValues} color={colorD} labelX={979} fontSize={28} />

      <text x={543} y={2401} dy="0.36em" textAnchor="middle" fontSize={28} fill="#222">Linoleic acid metabolism</text>
      <Heatmap x0={48} x1={971} y0={2423} y1={2577} rows={dLinRows} values={dLinValues} color={colorD} labelX={979} fontSize={28} />
      <GroupBars gh={[50, 503]} hc={[516, 969]} y={2591} labelY={2616} fontSize={28} />
    </svg>
  );
}
